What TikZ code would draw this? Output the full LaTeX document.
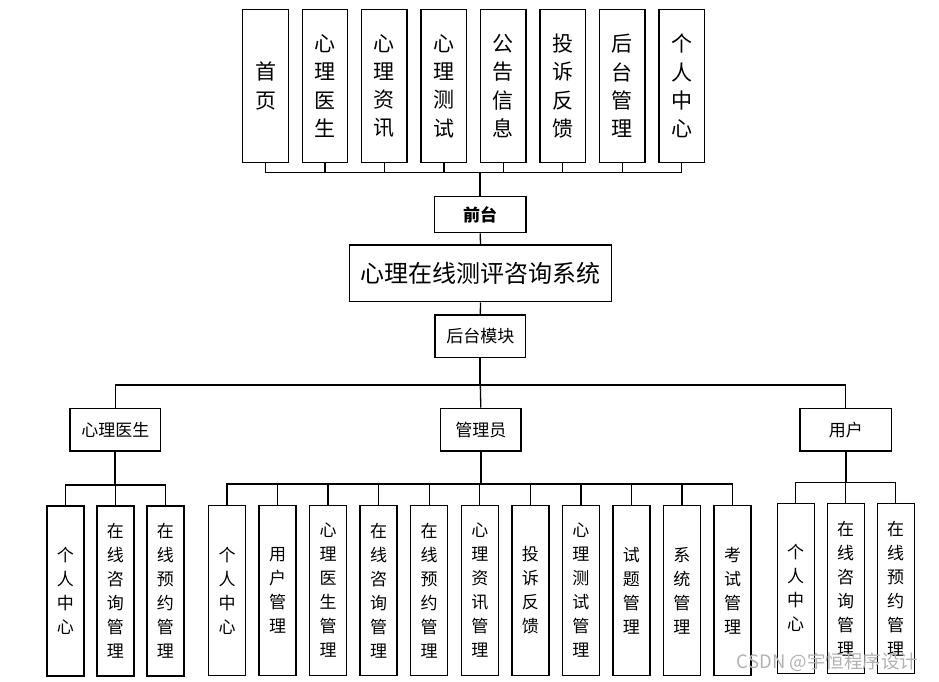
\documentclass[tikz,border=0pt]{standalone}
\usepackage{fontspec}
\setmainfont{Noto Sans CJK SC}
\begin{document}
\begin{tikzpicture}[x=1pt,y=-1pt,
  box/.style={draw,line width=1.4pt,inner sep=0pt,align=center},
  topbox/.style={box,minimum width=45.5pt,minimum height=153.4pt,font=\fontsize{21}{28.3}\selectfont},
  subbox/.style={box,minimum width=37pt,minimum height=170pt,font=\fontsize{17}{24}\selectfont},
  midbox/.style={box,minimum height=42.7pt,font=\fontsize{17}{20}\selectfont},
  conn/.style={line width=1.3pt},
  trunk/.style={line width=2.2pt}]
\useasboundingbox (0,0) rectangle (939,681);
% top boxes
\foreach \n/\t [count=\i from 0] in {t1/首\\页, t2/心\\理\\医\\生, t3/心\\理\\资\\讯, t4/心\\理\\测\\试, t5/公\\告\\信\\息, t6/投\\诉\\反\\馈, t7/后\\台\\管\\理, t8/个\\人\\中\\心}
  \node[topbox] (\n) at ({265.5+59.45*\i},86) {\t};
\node[box,minimum width=91.7pt,minimum height=36pt,font=\fontsize{17}{20}\selectfont\bfseries] (qt) at (480.2,214.7) {前台};
\node[box,minimum width=262.4pt,minimum height=56.7pt,font=\fontsize{24}{28}\selectfont] (sys) at (480.5,273.3) {心理在线测评咨询系统};
\node[midbox,minimum width=90.7pt] (hm) at (480.3,336.3) {后台模块};
\node[midbox,minimum width=90.7pt] (doc) at (115.3,429.7) {心理医生};
\node[midbox,minimum width=80.3pt] (adm) at (480.8,429.7) {管理员};
\node[midbox,minimum width=91.7pt] (usr) at (845.8,429.7) {用户};
% doctor children
\foreach \n/\t [count=\i from 0] in {d1/个\\人\\中\\心, d2/在\\线\\咨\\询\\管\\理, d3/在\\线\\预\\约\\管\\理}
  \node[subbox] (\n) at ({65.3+50*\i},591) {\t};
% admin children
\foreach \n/\t [count=\i from 0] in {a1/个\\人\\中\\心, a2/用\\户\\管\\理, a3/心\\理\\医\\生\\管\\理, a4/在\\线\\咨\\询\\管\\理, a5/在\\线\\预\\约\\管\\理, a6/心\\理\\资\\讯\\管\\理, a7/投\\诉\\反\\馈, a8/心\\理\\测\\试\\管\\理, a9/试\\题\\管\\理, a10/系\\统\\管\\理, a11/考\\试\\管\\理}
  \node[subbox] (\n) at ({227+50.55*\i},590.5) {\t};
% user children
\foreach \n/\t [count=\i from 0] in {u1/个\\人\\中\\心, u2/在\\线\\咨\\询\\管\\理, u3/在\\线\\预\\约\\管\\理}
  \node[subbox] (\n) at ({795.7+50*\i},588.3) {\t};
% coordinates
\coordinate (bus1) at (480.2,172.7);
\coordinate (bus2) at (480.3,385);
\coordinate (dbus) at (115.3,485);
\coordinate (abus) at (480.8,484);
\coordinate (ubus) at (845.8,482.3);
% connectors
\foreach \n in {t1,t2,t3,t4,t5,t6,t7,t8} \draw[conn] (\n.south) |- (bus1);
\draw[trunk] (bus1) -- (qt.north);
\draw[conn] (qt.south) -- (sys.north);
\draw[conn] (sys.south) -- (hm.north);
\draw[trunk] (hm.south) -- (bus2);
\draw[conn] (bus2) -| (doc.north);
\draw[conn] (bus2) -| (usr.north);
\draw[conn] (bus2) -- (adm.north);
\draw[trunk] (doc.south) -- (dbus);
\draw[trunk] (adm.south) -- (abus);
\draw[trunk] (usr.south) -- (ubus);
\foreach \n in {d1,d2,d3} \draw[conn] (dbus) -| (\n.north);
\foreach \n in {a1,a2,a3,a4,a5,a6,a7,a8,a9,a10,a11} \draw[conn] (abus) -| (\n.north);
\foreach \n in {u1,u2,u3} \draw[conn] (ubus) -| (\n.north);
% watermark
\node[text=black!30,font=\fontsize{18.5}{20}\selectfont,inner sep=0pt] (wm) at (827.5,662) {CSDN @宇恒程序设计};
\end{tikzpicture}
\end{document}
